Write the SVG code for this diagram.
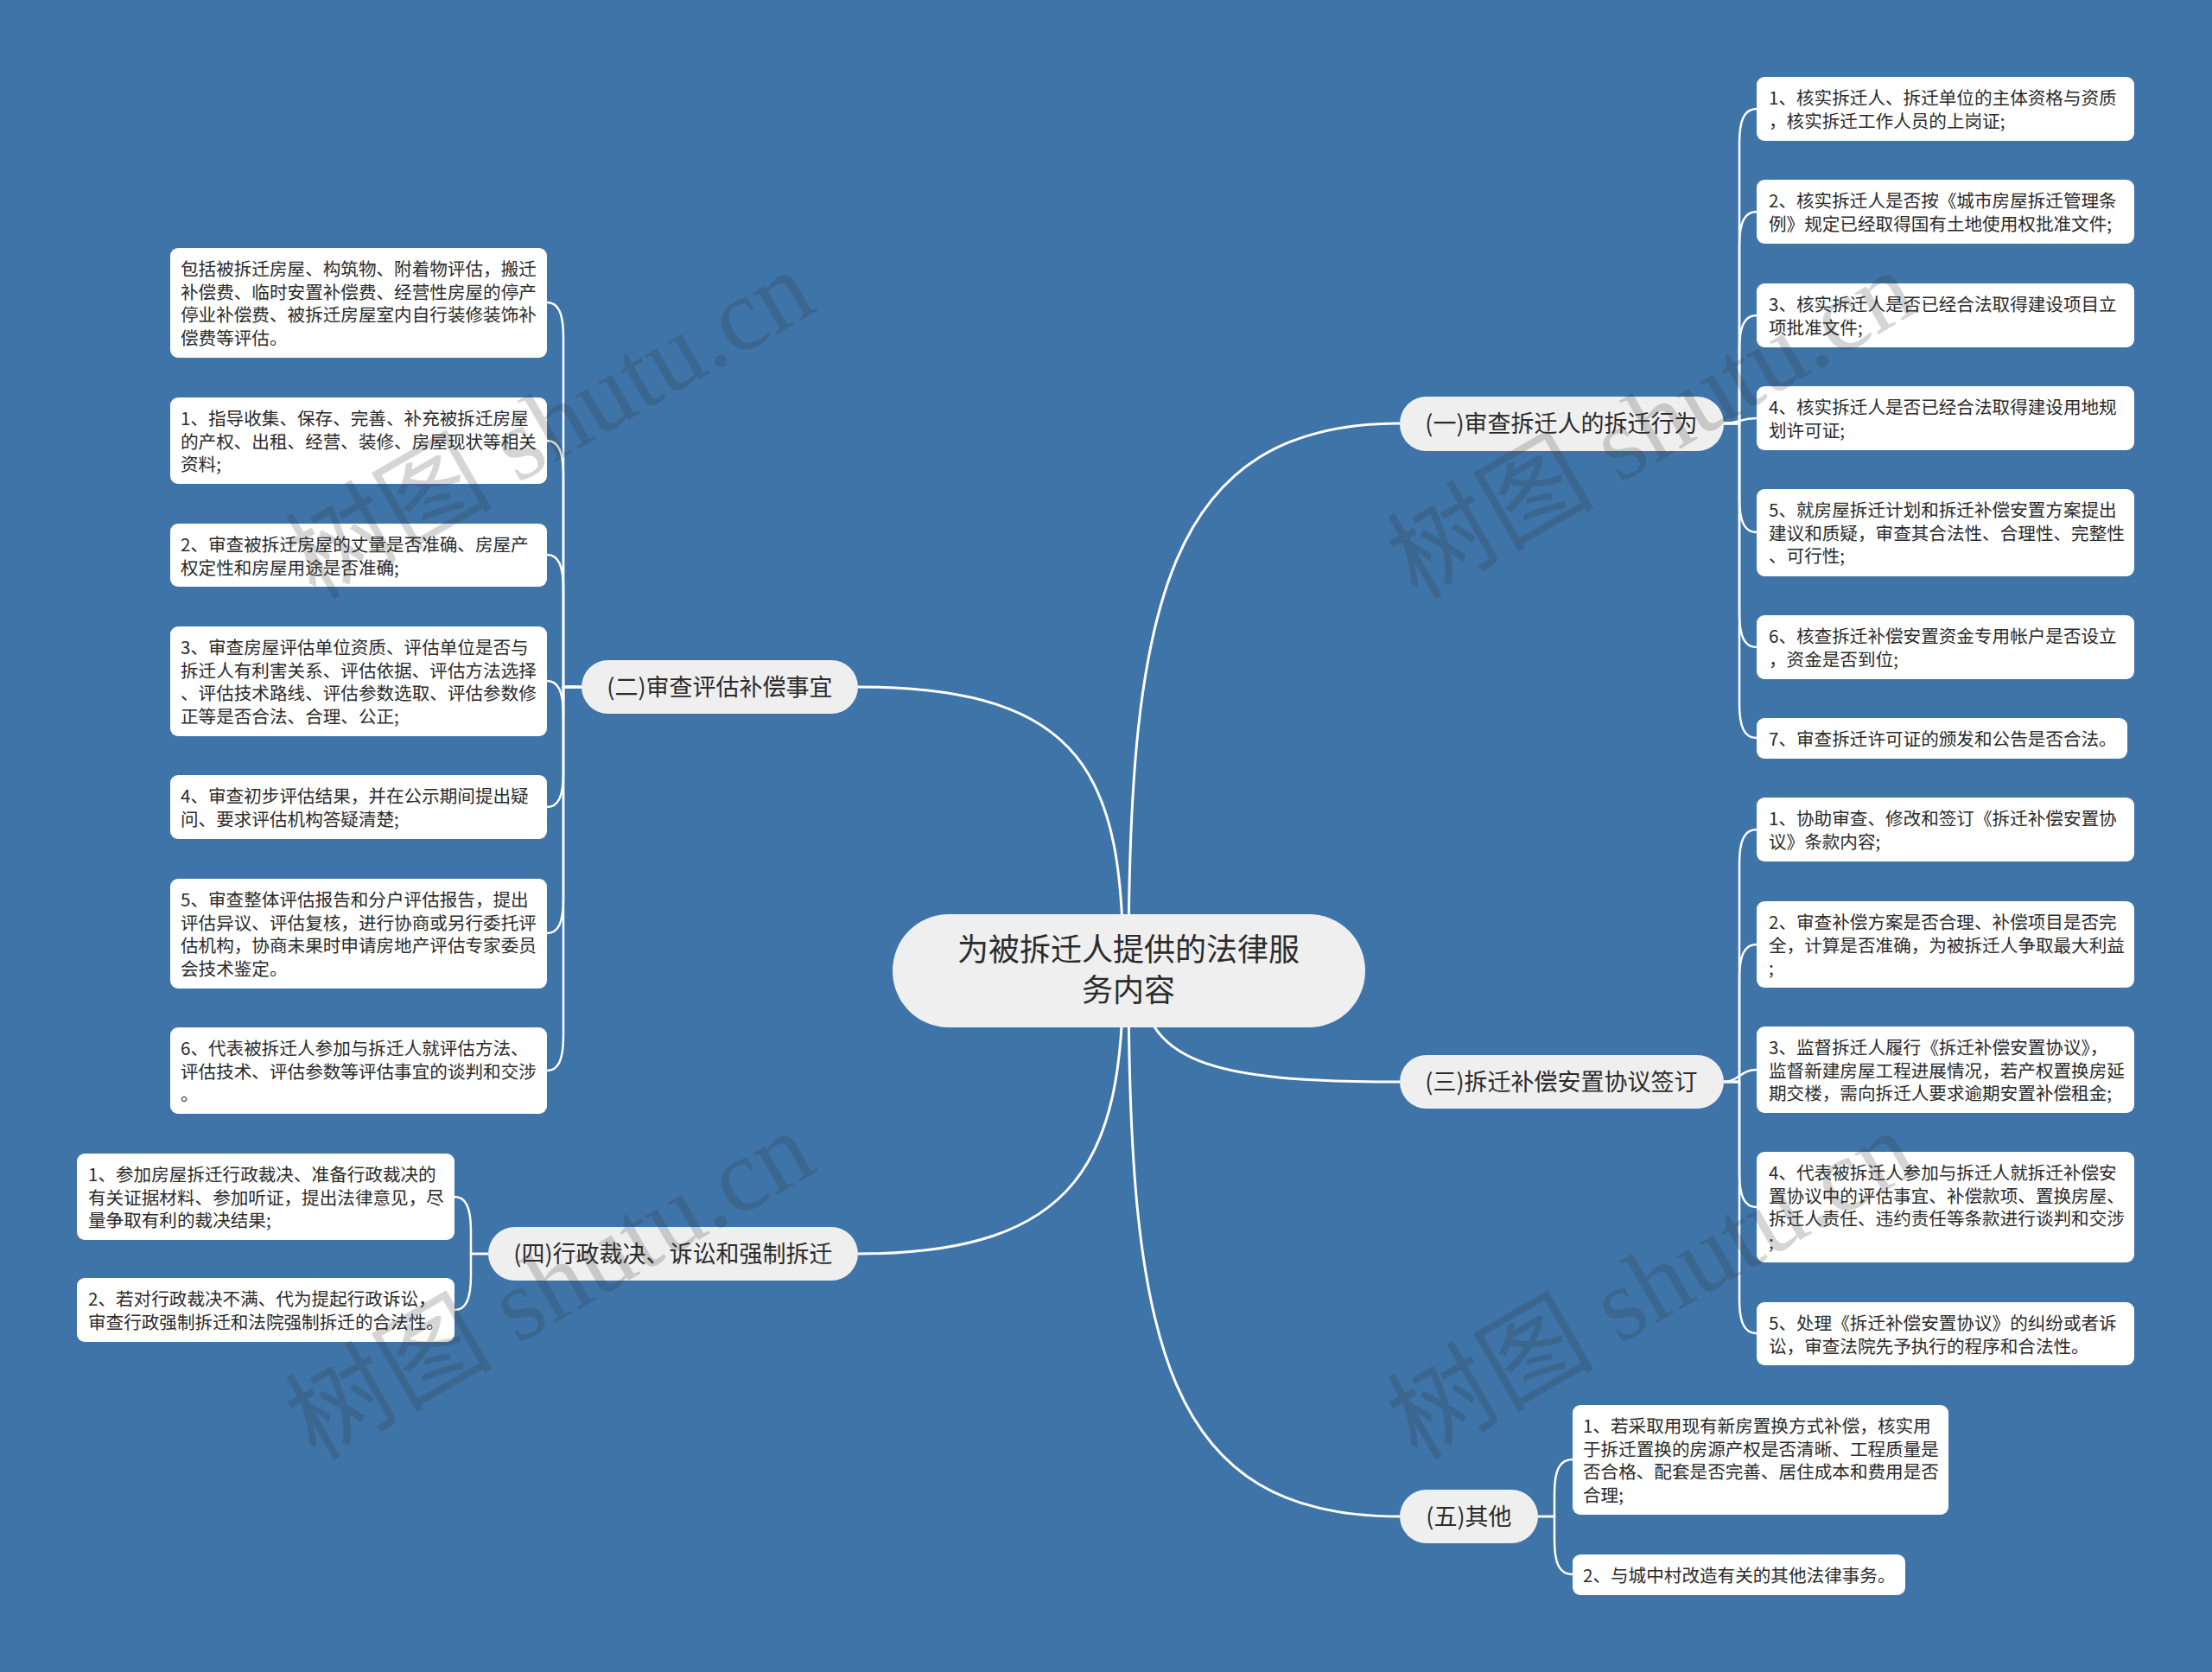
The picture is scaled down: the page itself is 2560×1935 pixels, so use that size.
<svg xmlns="http://www.w3.org/2000/svg" width="2560" height="1935" viewBox="0 0 2560 1935">
<style>
.bg{fill:#3e74a7}
.main{fill:none;stroke:#ffffff;stroke-width:3}
.sub{fill:none;stroke:#ffffff;stroke-width:2.5}
.root rect{fill:#efefef}
.root text{font-family:"Noto Sans CJK SC","Liberation Sans",sans-serif;font-size:36px;fill:#2b2b2b;text-anchor:middle}
.branch rect{fill:#efefef}
.branch text{font-family:"Noto Sans CJK SC","Liberation Sans",sans-serif;font-size:27px;fill:#2b2b2b;text-anchor:middle}
.leaf rect{fill:#ffffff}
.leaf text{font-family:"Noto Sans CJK SC","Liberation Sans",sans-serif;font-size:20.6px;fill:#2b2b2b}
.wm{font-family:"Liberation Serif","Noto Sans CJK SC",serif;font-size:120px;fill:#333333;opacity:0.2}
</style>
<rect class="bg" x="0" y="0" width="2560" height="1935"/>

<g id="connectors">
  <path class="main" d="M1306 1123 C1306 700 1350 490 1620 490"/>
  <path class="main" d="M1300 1123 C1300 900 1257 795 993 795"/>
  <path class="main" d="M1320 1123 C1320 1230 1400 1252 1620 1252"/>
  <path class="main" d="M1300 1123 C1300 1340 1250 1451 993 1451"/>
  <path class="main" d="M1306 1123 C1306 1560 1350 1755 1620 1755"/>

  <path class="sub" d="M1995 490 H2013 V166 C2013 138 2019 126 2033 126"/>
  <path class="sub" d="M1995 490 H2013 V285 C2013 257 2019 245 2033 245"/>
  <path class="sub" d="M1995 490 H2013 V405 C2013 377 2019 365 2033 365"/>
  <path class="sub" d="M1995 490 C2012 490 2014 484 2033 484"/>
  <path class="sub" d="M1995 490 H2013 V576 C2013 604 2019 616 2033 616"/>
  <path class="sub" d="M1995 490 H2013 V709 C2013 737 2019 749 2033 749"/>
  <path class="sub" d="M1995 490 H2013 V814 C2013 842 2019 854 2033 854"/>

  <path class="sub" d="M1995 1252 H2013 V1000 C2013 972 2019 960 2033 960"/>
  <path class="sub" d="M1995 1252 H2013 V1133 C2013 1105 2019 1093 2033 1093"/>
  <path class="sub" d="M1995 1252 C2012 1252 2014 1238 2033 1238"/>
  <path class="sub" d="M1995 1252 H2013 V1357 C2013 1385 2019 1397 2033 1397"/>
  <path class="sub" d="M1995 1252 H2013 V1503 C2013 1531 2019 1543 2033 1543"/>

  <path class="sub" d="M1780 1755 H1799 V1729 C1799 1701 1805 1689 1820 1689"/>
  <path class="sub" d="M1780 1755 H1799 V1782 C1799 1810 1805 1822 1820 1822"/>

  <path class="sub" d="M673 795 H652 V390 C652 362 646 350 633 350"/>
  <path class="sub" d="M673 795 H652 V550 C652 522 646 510 633 510"/>
  <path class="sub" d="M673 795 H652 V682 C652 654 646 642 633 642"/>
  <path class="sub" d="M673 795 H652 V828 C652 800 646 788 633 788"/>
  <path class="sub" d="M673 795 H652 V894 C652 922 646 934 633 934"/>
  <path class="sub" d="M673 795 H652 V1040 C652 1068 646 1080 633 1080"/>
  <path class="sub" d="M673 795 H652 V1199 C652 1227 646 1239 633 1239"/>

  <path class="sub" d="M565 1451 H545 V1425 C545 1397 539 1385 526 1385"/>
  <path class="sub" d="M565 1451 H545 V1476 C545 1504 539 1516 526 1516"/>
</g>

<g id="root" class="root">
  <rect x="1033" y="1058" width="547" height="131" rx="65"/>
  <text x="1306" y="1112">为被拆迁人提供的法律服</text>
  <text x="1306" y="1159">务内容</text>
</g>

<g id="b1" class="branch">
  <rect x="1620" y="459" width="375" height="63" rx="31"/>
  <text x="1807" y="500">(一)审查拆迁人的拆迁行为</text>
</g>
<g id="b2" class="branch">
  <rect x="673" y="764" width="320" height="62" rx="31"/>
  <text x="833" y="805">(二)审查评估补偿事宜</text>
</g>
<g id="b3" class="branch">
  <rect x="1620" y="1221" width="375" height="62" rx="31"/>
  <text x="1807" y="1262">(三)拆迁补偿安置协议签订</text>
</g>
<g id="b4" class="branch">
  <rect x="565" y="1420" width="428" height="62" rx="31"/>
  <text x="779" y="1461">(四)行政裁决、诉讼和强制拆迁</text>
</g>
<g id="b5" class="branch">
  <rect x="1620" y="1724" width="160" height="62" rx="31"/>
  <text x="1700" y="1765">(五)其他</text>
</g>

<g id="l1-1" class="leaf">
  <rect x="2033" y="89" width="437" height="74" rx="9"/>
  <text x="2047" y="121">1、核实拆迁人、拆迁单位的主体资格与资质</text>
  <text x="2047" y="147.7">，核实拆迁工作人员的上岗证;</text>
</g>
<g id="l1-2" class="leaf">
  <rect x="2033" y="208" width="437" height="74" rx="9"/>
  <text x="2047" y="240">2、核实拆迁人是否按《城市房屋拆迁管理条</text>
  <text x="2047" y="266.7">例》规定已经取得国有土地使用权批准文件;</text>
</g>
<g id="l1-3" class="leaf">
  <rect x="2033" y="328" width="437" height="74" rx="9"/>
  <text x="2047" y="360">3、核实拆迁人是否已经合法取得建设项目立</text>
  <text x="2047" y="386.7">项批准文件;</text>
</g>
<g id="l1-4" class="leaf">
  <rect x="2033" y="447" width="437" height="74" rx="9"/>
  <text x="2047" y="479">4、核实拆迁人是否已经合法取得建设用地规</text>
  <text x="2047" y="505.7">划许可证;</text>
</g>
<g id="l1-5" class="leaf">
  <rect x="2033" y="566" width="437" height="101" rx="9"/>
  <text x="2047" y="598">5、就房屋拆迁计划和拆迁补偿安置方案提出</text>
  <text x="2047" y="624.7">建议和质疑，审查其合法性、合理性、完整性</text>
  <text x="2047" y="651.4">、可行性;</text>
</g>
<g id="l1-6" class="leaf">
  <rect x="2033" y="712" width="437" height="74" rx="9"/>
  <text x="2047" y="744">6、核查拆迁补偿安置资金专用帐户是否设立</text>
  <text x="2047" y="770.7">，资金是否到位;</text>
</g>
<g id="l1-7" class="leaf">
  <rect x="2033" y="831" width="429" height="47" rx="9"/>
  <text x="2047" y="863">7、审查拆迁许可证的颁发和公告是否合法。</text>
</g>

<g id="l3-1" class="leaf">
  <rect x="2033" y="923" width="437" height="74" rx="9"/>
  <text x="2047" y="955">1、协助审查、修改和签订《拆迁补偿安置协</text>
  <text x="2047" y="981.7">议》条款内容;</text>
</g>
<g id="l3-2" class="leaf">
  <rect x="2033" y="1043" width="437" height="100" rx="9"/>
  <text x="2047" y="1075">2、审查补偿方案是否合理、补偿项目是否完</text>
  <text x="2047" y="1101.7">全，计算是否准确，为被拆迁人争取最大利益</text>
  <text x="2047" y="1128.4">;</text>
</g>
<g id="l3-3" class="leaf">
  <rect x="2033" y="1188" width="437" height="100" rx="9"/>
  <text x="2047" y="1220">3、监督拆迁人履行《拆迁补偿安置协议》，</text>
  <text x="2047" y="1246.7">监督新建房屋工程进展情况，若产权置换房延</text>
  <text x="2047" y="1273.4">期交楼，需向拆迁人要求逾期安置补偿租金;</text>
</g>
<g id="l3-4" class="leaf">
  <rect x="2033" y="1333" width="437" height="128" rx="9"/>
  <text x="2047" y="1365">4、代表被拆迁人参加与拆迁人就拆迁补偿安</text>
  <text x="2047" y="1391.7">置协议中的评估事宜、补偿款项、置换房屋、</text>
  <text x="2047" y="1418.4">拆迁人责任、违约责任等条款进行谈判和交涉</text>
  <text x="2047" y="1445.1">;</text>
</g>
<g id="l3-5" class="leaf">
  <rect x="2033" y="1507" width="437" height="73" rx="9"/>
  <text x="2047" y="1539">5、处理《拆迁补偿安置协议》的纠纷或者诉</text>
  <text x="2047" y="1565.7">讼，审查法院先予执行的程序和合法性。</text>
</g>

<g id="l5-1" class="leaf">
  <rect x="1820" y="1626" width="435" height="127" rx="9"/>
  <text x="1832" y="1658">1、若采取用现有新房置换方式补偿，核实用</text>
  <text x="1832" y="1684.7">于拆迁置换的房源产权是否清晰、工程质量是</text>
  <text x="1832" y="1711.4">否合格、配套是否完善、居住成本和费用是否</text>
  <text x="1832" y="1738.1">合理;</text>
</g>
<g id="l5-2" class="leaf">
  <rect x="1820" y="1799" width="385" height="47" rx="9"/>
  <text x="1832" y="1831">2、与城中村改造有关的其他法律事务。</text>
</g>

<g id="l2-0" class="leaf">
  <rect x="197" y="287" width="436" height="127" rx="9"/>
  <text x="209" y="319">包括被拆迁房屋、构筑物、附着物评估，搬迁</text>
  <text x="209" y="345.7">补偿费、临时安置补偿费、经营性房屋的停产</text>
  <text x="209" y="372.4">停业补偿费、被拆迁房屋室内自行装修装饰补</text>
  <text x="209" y="399.1">偿费等评估。</text>
</g>
<g id="l2-1" class="leaf">
  <rect x="197" y="460" width="436" height="100" rx="9"/>
  <text x="209" y="492">1、指导收集、保存、完善、补充被拆迁房屋</text>
  <text x="209" y="518.7">的产权、出租、经营、装修、房屋现状等相关</text>
  <text x="209" y="545.4">资料;</text>
</g>
<g id="l2-2" class="leaf">
  <rect x="197" y="606" width="436" height="73" rx="9"/>
  <text x="209" y="638">2、审查被拆迁房屋的丈量是否准确、房屋产</text>
  <text x="209" y="664.7">权定性和房屋用途是否准确;</text>
</g>
<g id="l2-3" class="leaf">
  <rect x="197" y="725" width="436" height="127" rx="9"/>
  <text x="209" y="757">3、审查房屋评估单位资质、评估单位是否与</text>
  <text x="209" y="783.7">拆迁人有利害关系、评估依据、评估方法选择</text>
  <text x="209" y="810.4">、评估技术路线、评估参数选取、评估参数修</text>
  <text x="209" y="837.1">正等是否合法、合理、公正;</text>
</g>
<g id="l2-4" class="leaf">
  <rect x="197" y="897" width="436" height="74" rx="9"/>
  <text x="209" y="929">4、审查初步评估结果，并在公示期间提出疑</text>
  <text x="209" y="955.7">问、要求评估机构答疑清楚;</text>
</g>
<g id="l2-5" class="leaf">
  <rect x="197" y="1017" width="436" height="127" rx="9"/>
  <text x="209" y="1049">5、审查整体评估报告和分户评估报告，提出</text>
  <text x="209" y="1075.7">评估异议、评估复核，进行协商或另行委托评</text>
  <text x="209" y="1102.4">估机构，协商未果时申请房地产评估专家委员</text>
  <text x="209" y="1129.1">会技术鉴定。</text>
</g>
<g id="l2-6" class="leaf">
  <rect x="197" y="1189" width="436" height="100" rx="9"/>
  <text x="209" y="1221">6、代表被拆迁人参加与拆迁人就评估方法、</text>
  <text x="209" y="1247.7">评估技术、评估参数等评估事宜的谈判和交涉</text>
  <text x="209" y="1274.4">。</text>
</g>

<g id="l4-1" class="leaf">
  <rect x="89" y="1335" width="437" height="100" rx="9"/>
  <text x="102" y="1367">1、参加房屋拆迁行政裁决、准备行政裁决的</text>
  <text x="102" y="1393.7">有关证据材料、参加听证，提出法律意见，尽</text>
  <text x="102" y="1420.4">量争取有利的裁决结果;</text>
</g>
<g id="l4-2" class="leaf">
  <rect x="89" y="1479" width="437" height="74" rx="9"/>
  <text x="102" y="1511">2、若对行政裁决不满、代为提起行政诉讼，</text>
  <text x="102" y="1537.7">审查行政强制拆迁和法院强制拆迁的合法性。</text>
</g>

<g id="watermarks">
  <text class="wm" transform="translate(365,695) rotate(-30)">树图 shutu.cn</text>
  <text class="wm" transform="translate(1640,695) rotate(-30)">树图 shutu.cn</text>
  <text class="wm" transform="translate(365,1691) rotate(-30)">树图 shutu.cn</text>
  <text class="wm" transform="translate(1640,1691) rotate(-30)">树图 shutu.cn</text>
</g>
</svg>
